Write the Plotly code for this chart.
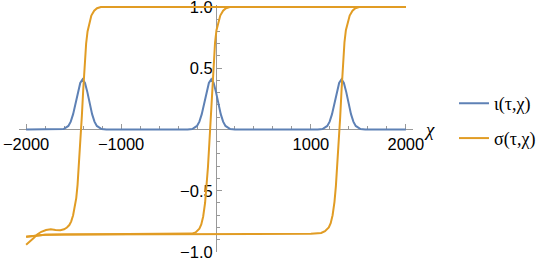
import plotly.graph_objects as go

# ---- data ----
iota_x = [-2000,
          -1655, -1605, -1555, -1530, -1505, -1480, -1455, -1430, -1405, -1380, -1355, -1330, -1305, -1280, -1255, -1205, -1155,
          -300, -250, -200, -175, -150, -125, -100, -75, -50, -25, 0, 25, 50, 75, 100, 150, 200,
          1072, 1122, 1172, 1197, 1222, 1247, 1272, 1297, 1322, 1347, 1372, 1397, 1422, 1447, 1472, 1522, 1572,
          2000]
iota_y = [0,
          0, 0.004, 0.029, 0.064, 0.125, 0.21, 0.305, 0.38, 0.41, 0.38, 0.305, 0.21, 0.125, 0.064, 0.029, 0.004, 0,
          0, 0.004, 0.029, 0.064, 0.125, 0.21, 0.305, 0.38, 0.41, 0.38, 0.305, 0.21, 0.125, 0.064, 0.029, 0.004, 0,
          0, 0.004, 0.029, 0.064, 0.125, 0.21, 0.305, 0.38, 0.41, 0.38, 0.305, 0.21, 0.125, 0.064, 0.029, 0.004, 0,
          0]

sigma1_x = [-2000, -1960, -1920, -1880, -1840, -1790, -1740, -1690, -1640, -1600, -1570, -1545, -1525, -1505,
            -1488, -1472, -1458, -1443, -1428, -1413, -1398, -1383, -1368, -1353, -1333, -1313, -1283, -1253, -1213, 2000]
sigma1_y = [-0.94, -0.915, -0.885, -0.855, -0.835, -0.82, -0.815, -0.82, -0.822, -0.815, -0.80, -0.78, -0.75, -0.70,
            -0.64, -0.56, -0.45, -0.29, -0.09, 0.11, 0.33, 0.55, 0.70, 0.80, 0.88, 0.93, 0.97, 0.99, 1.0, 1.0]

sigma2_x = [-2000, -1950, -1900, -1800, -1600, -1200, -800, -500, -350,
            -255, -215, -175, -155, -135, -115, -100, -85, -70, -55, -40, -25, -10, 5, 25, 45, 75, 105, 145, 2000]
sigma2_y = [-0.875, -0.87, -0.865, -0.86, -0.857, -0.855, -0.855, -0.855, -0.853,
            -0.85, -0.84, -0.81, -0.775, -0.71, -0.60, -0.47, -0.31, -0.11, 0.10, 0.33, 0.56, 0.71, 0.81, 0.88, 0.93, 0.97, 0.99, 1.0, 1.0]

sigma3_x = [-2000, -1950, -1900, -1800, -1600, -1000, 0, 800, 1000,
            1108, 1148, 1188, 1208, 1228, 1248, 1263, 1278, 1293, 1308, 1323, 1338, 1353, 1368, 1388, 1408, 1438, 1468, 1508, 2000]
sigma3_y = [-0.875, -0.87, -0.865, -0.86, -0.857, -0.855, -0.853, -0.853, -0.852,
            -0.845, -0.83, -0.80, -0.765, -0.70, -0.59, -0.46, -0.30, -0.10, 0.10, 0.33, 0.56, 0.71, 0.81, 0.88, 0.93, 0.97, 0.99, 1.0, 1.0]

x_tickvals = [-2000, -1000, 1000, 2000]
x_ticktext = ["\u22122000", "\u22121000", "1000", "2000"]
x_minor = [v for v in range(-2000, 2001, 200) if v % 1000 != 0]
y_tickvals = [-1.0, -0.5, 0.5, 1.0]
y_ticktext = ["\u22121.0", "\u22120.5", "0.5", "1.0"]
y_minor = [-0.9, -0.8, -0.7, -0.6, -0.4, -0.3, -0.2, -0.1, 0.1, 0.2, 0.3, 0.4, 0.6, 0.7, 0.8, 0.9]

x_range = [-2075, 2075]
y_range = [-1.0, 1.016]

BLUE = "#5E81B5"
ORANGE = "#E19C24"
AXIS = "#999999"

orange_x = sigma1_x + [None] + sigma2_x + [None] + sigma3_x
orange_y = sigma1_y + [None] + sigma2_y + [None] + sigma3_y

fig = go.Figure()
fig.add_trace(go.Scatter(x=iota_x, y=iota_y, mode="lines", name="\u03b9(\u03c4,\u03c7)",
                         line=dict(color=BLUE, width=2), legend="legend", showlegend=True))
fig.add_trace(go.Scatter(x=orange_x, y=orange_y, mode="lines", name="\u03c3(\u03c4,\u03c7)",
                         line=dict(color=ORANGE, width=2), connectgaps=False, legend="legend2", showlegend=True))

xpos = (0 - y_range[0]) / (y_range[1] - y_range[0])
ypos = (0 - x_range[0]) / (x_range[1] - x_range[0])

tickfont = dict(family="Liberation Sans", size=16.5, color="black")

fig.update_layout(
    width=554, height=259,
    showlegend=True,
    margin=dict(l=19, r=141, t=5, b=7, autoexpand=False),
    paper_bgcolor="white", plot_bgcolor="white",
    xaxis=dict(range=x_range, anchor="free", position=xpos, showgrid=False, zeroline=False, automargin=False,
               showline=True, linecolor=AXIS, linewidth=1, layer="below traces", ticklabeloverflow="allow",
               tickmode="array", tickvals=x_tickvals, ticktext=x_ticktext,
               ticks="inside", ticklen=5, tickcolor=AXIS, tickwidth=1, tickfont=tickfont,
               minor=dict(tickmode="array", tickvals=x_minor, ticks="inside", ticklen=3, tickcolor=AXIS)),
    yaxis=dict(range=y_range, anchor="free", position=ypos, showgrid=False, zeroline=False, automargin=False,
               showline=True, linecolor=AXIS, linewidth=1, layer="below traces", ticklabeloverflow="allow",
               tickmode="array", tickvals=y_tickvals, ticktext=y_ticktext,
               ticks="inside", ticklen=5, tickcolor=AXIS, tickwidth=1, tickfont=tickfont,
               minor=dict(tickmode="array", tickvals=y_minor, ticks="inside", ticklen=3, tickcolor=AXIS)),
    legend=dict(x=1.104, y=0.601, xanchor="left", yanchor="middle", bgcolor="rgba(0,0,0,0)",
                font=dict(family="Liberation Serif", size=18, color="black")),
    legend2=dict(x=1.104, y=0.460, xanchor="left", yanchor="middle", bgcolor="rgba(0,0,0,0)",
                 font=dict(family="Liberation Serif", size=18, color="black")),
    annotations=[dict(x=x_range[1], y=0, xref="x", yref="y", xanchor="left", yanchor="middle",
                      text="<i>\u03c7</i>", showarrow=False, xshift=9, yshift=0,
                      font=dict(family="Liberation Serif", size=19, color="black"))],
)

fig.write_html("out.html", config={"displayModeBar": False},
               post_script="document.body.style.margin='0';document.body.style.overflow='hidden';")
